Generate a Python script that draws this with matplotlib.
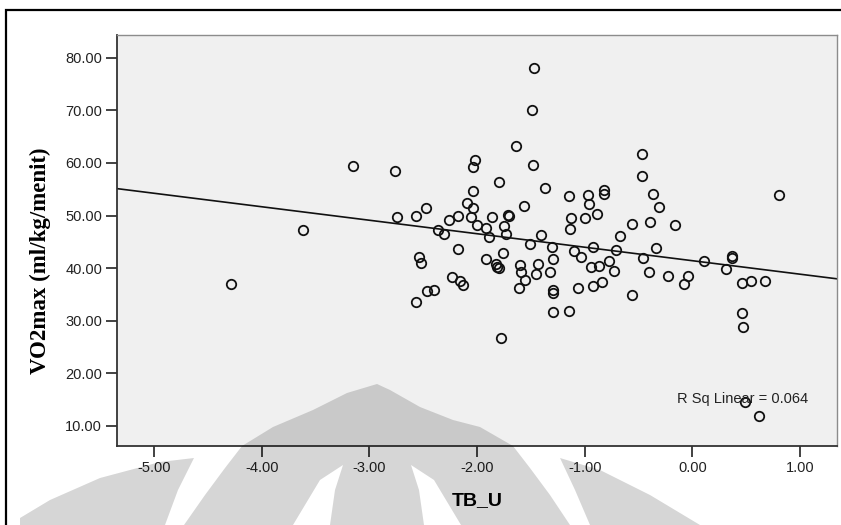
import matplotlib.pyplot as plt
from matplotlib.patches import Rectangle, Polygon
import numpy as np

# TB_U (x) and VO2max (y)
tb_u = [-4.28, -3.62, -3.15, -2.76, -2.74, -2.57, -2.47, -2.36, -2.31, -2.26,
        -2.18, -2.18, -2.54, -2.52, -2.23, -2.16, -2.13, -2.57, -2.46, -2.40,
        -2.02, -2.04, -2.04, -2.09, -2.04, -2.06, -2.00, -1.92, -1.86, -1.71,
        -1.70, -1.75, -1.89, -1.73, -1.80, -1.64, -1.47, -1.49, -1.48, -1.37,
        -1.56, -1.41, -1.51, -1.92, -1.76, -1.82, -1.80, -1.81, -1.60, -1.59,
        -1.43, -1.45, -1.55, -1.61, -1.78, -1.15, -0.97, -0.96, -0.82, -0.82,
        -1.13, -1.14, -1.00, -0.89, -1.30, -1.10, -1.03, -0.92, -1.29, -1.32,
        -0.94, -0.87, -0.77, -0.73, -0.71, -0.67, -0.56, -0.47, -0.47, -0.37,
        -0.31, -0.39, -0.16, -0.34, -0.46, -0.40, -0.23, -0.04, -0.08, -1.29,
        -1.29, -1.06, -0.92, -0.84, -0.56, -1.29, -1.15, 0.11, 0.37, 0.37,
        0.31, 0.46, 0.54, 0.67, 0.46, 0.47, 0.49, 0.62, 0.80]
vo2max = [36.97, 47.17, 59.38, 58.38, 49.64, 49.94, 51.46, 47.17, 46.52, 49.13,
          49.94, 43.56, 42.10, 40.90, 38.30, 37.54, 36.72, 33.61, 35.58, 35.89,
          60.52, 59.19, 54.63, 52.41, 51.35, 49.64, 48.23, 47.70, 49.75, 50.08,
          49.89, 48.04, 45.95, 46.47, 56.29, 63.18, 78.05, 70.08, 59.57, 55.26,
          51.73, 46.22, 44.57, 41.66, 42.80, 40.77, 39.95, 40.20, 40.58, 39.34,
          40.86, 38.97, 37.73, 36.21, 26.77, 53.68, 53.87, 52.17, 54.77, 54.01,
          49.51, 47.36, 49.60, 50.36, 44.06, 43.30, 42.14, 44.06, 41.72, 39.34,
          40.20, 40.45, 41.43, 39.50, 43.43, 46.18, 48.31, 61.60, 57.54, 54.16,
          51.54, 48.75, 48.18, 43.90, 42.00, 39.31, 38.55, 38.49, 36.91, 35.77,
          35.36, 36.21, 36.69, 37.29, 34.82, 31.75, 31.94, 41.34, 42.29, 41.85,
          39.76, 37.22, 37.48, 37.60, 31.52, 28.80, 14.56, 11.96, 53.93]

x_ticks = [-5, -4, -3, -2, -1, 0, 1]
y_ticks = [10, 20, 30, 40, 50, 60, 70, 80]
r_sq_text = "R Sq Linear = 0.064"

fig = plt.figure(figsize=(8.41, 5.25), dpi=100)
ax = fig.add_axes([0.1395, 0.1505, 0.8554, 0.7828])
ax.set_facecolor('#f0f0f0')

x = np.array(tb_u)
y = np.array(vo2max)
ax.plot(x, y, 'o', ms=6.8, mfc='none', mec='#111111', mew=1.3, zorder=3)

# linear fit line across the whole axis
b, a = np.polyfit(x, y, 1)
xl = np.array([-5.34, 1.34])
ax.plot(xl, a + b * xl, color='#111111', lw=1.2, zorder=2)

ax.text(-0.14, 15.1, r_sq_text, fontsize=10.5, family='Liberation Sans',
        color='#222222', va='center', ha='left')

ax.set_xlim(-5.34, 1.34)
ax.set_ylim(6.2, 84.3)
ax.set_xticks(x_ticks)
ax.set_yticks(y_ticks)
ax.set_xticklabels(["%.2f" % v for v in x_ticks])
ax.set_yticklabels(["%.2f" % v for v in y_ticks])
ax.tick_params(direction='out', length=8, width=1.2, color='#222222',
               labelsize=10.5, labelcolor='#222222', pad=3)
for lab in ax.get_xticklabels() + ax.get_yticklabels():
    lab.set_family('Liberation Sans')

for s in ['left', 'bottom']:
    ax.spines[s].set_color('#333333')
    ax.spines[s].set_linewidth(1.3)
for s in ['top', 'right']:
    ax.spines[s].set_color('#8c8c8c')
    ax.spines[s].set_linewidth(1.0)

ax.set_xlabel("TB_U", fontsize=14, fontweight='bold', family='Liberation Sans',
              labelpad=12)
ax.set_ylabel("VO2max (ml/kg/menit)", fontsize=16.5, fontweight='bold',
              family='Liberation Serif')
ax.yaxis.set_label_coords(-0.092, 0.45)

# outer chart frame
fig.patches.append(Rectangle((6 / 841, -0.2), 1.2, 0.2 + 1 - 9.5 / 525,
                             transform=fig.transFigure, fill=False,
                             edgecolor='black', lw=1.6))

# faint logo watermark over the lower part (pixel coords, y down)
wm = fig.add_axes([0, 0, 1, 1], zorder=5)
wm.set_xlim(0, 841)
wm.set_ylim(525, 0)
wm.axis('off')
mountain = [(184, 525), (205, 495), (225, 468), (242, 446), (273, 427),
            (313, 410), (347, 393), (377, 384), (390, 390), (420, 407),
            (453, 420), (480, 427), (513, 446), (530, 468), (550, 495),
            (570, 525), (461, 525), (434, 480), (411, 465), (419, 490),
            (424, 525), (330, 525), (335, 490), (343, 465), (320, 480),
            (293, 525)]
left_wing = [(194, 458), (160, 462), (100, 478), (50, 500), (20, 518),
             (20, 525), (165, 525), (178, 490)]
right_wing = [(560, 458), (600, 470), (650, 495), (700, 525), (590, 525),
              (575, 490)]
for pts in [mountain, left_wing, right_wing]:
    wm.add_patch(Polygon(pts, closed=True, facecolor='black', alpha=0.16,
                         edgecolor='none'))

fig.savefig("out.png", dpi=100)
